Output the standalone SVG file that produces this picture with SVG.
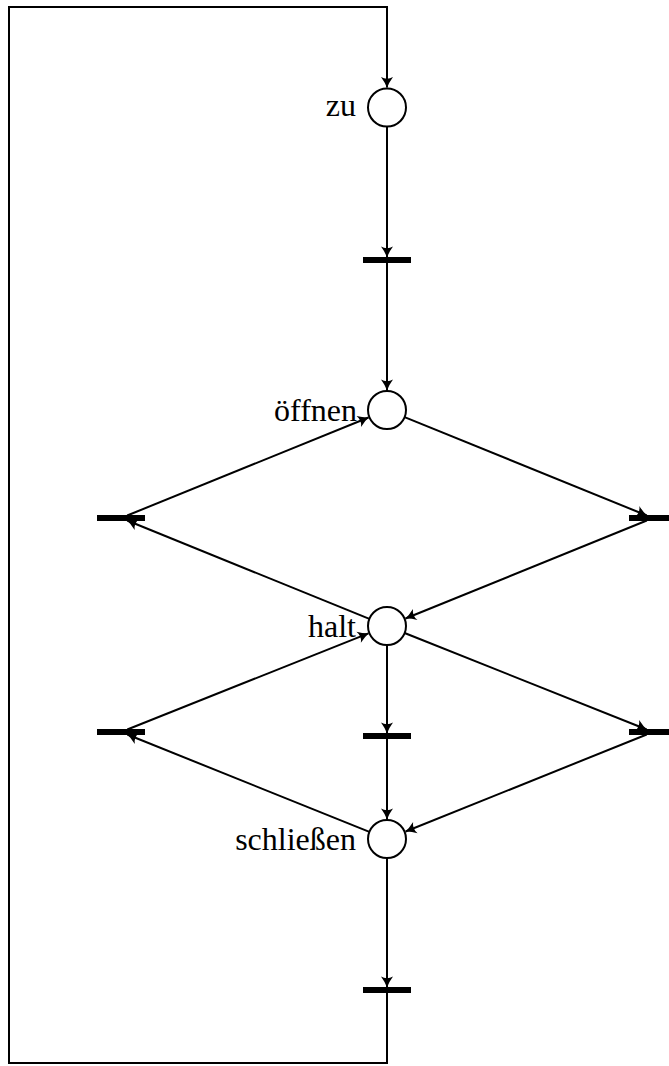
<svg xmlns="http://www.w3.org/2000/svg" width="669" height="1066" viewBox="0 0 669 1066">
  <defs>
    <marker id="arrow" viewBox="-13 -7 14 14" markerWidth="14" markerHeight="14" refX="0" refY="0" orient="auto" markerUnits="userSpaceOnUse">
      <path d="M0.5,0 Q-4.5,-1.6 -10.5,-6 Q-7,0 -10.5,6 Q-4.5,1.6 0.5,0 Z" fill="#000"/>
    </marker>
  </defs>
  <style>
    .place { fill: #fff; stroke: #000; stroke-width: 2; }
    .trans { fill: #000; stroke: none; }
    .arc { fill: none; stroke: #000; stroke-width: 2; marker-end: url(#arrow); }
    .line { fill: none; stroke: #000; stroke-width: 2; }
    .label { font-family: "Liberation Serif", "DejaVu Serif", serif; font-size: 32px; fill: #000; text-anchor: end; }
  </style>
  <rect width="669" height="1066" fill="#fff"/>

  <!-- arcs -->
  <g id="connectors">
    <path class="line" d="M387,990 L387,1063 L9,1063 L9,7 L387,7 L387,20"/>
    <path class="arc" d="M387,20 L387,87.5"/>
    <path class="arc" d="M387,127 L387,257"/>
    <path class="arc" d="M387,263 L387,390"/>
    <path class="arc" d="M404.6,417.1 L646.8,515.5"/>
    <path class="arc" d="M646.8,520.5 L405.5,618.5"/>
    <path class="arc" d="M369.4,618.9 L127.2,520.5"/>
    <path class="arc" d="M127.2,515.5 L368.5,417.5"/>
    <path class="arc" d="M387,645 L387,733"/>
    <path class="arc" d="M387,739 L387,819"/>
    <path class="arc" d="M404.6,633 L646.7,729.5"/>
    <path class="arc" d="M646.7,734.5 L405.6,831.5"/>
    <path class="arc" d="M369.4,831.9 L127.3,734.5"/>
    <path class="arc" d="M127.3,729.5 L368.4,633.4"/>
    <path class="arc" d="M387,858 L387,987"/>
  </g>

  <!-- places -->
  <g id="p-zu">
    <circle class="place" cx="387" cy="107.5" r="19"/>
    <text class="label" x="356" y="116">zu</text>
  </g>
  <g id="p-oeffnen">
    <circle class="place" cx="387" cy="410" r="19"/>
    <text class="label" x="357" y="420.5">öffnen</text>
  </g>
  <g id="p-halt">
    <circle class="place" cx="387" cy="626" r="19"/>
    <text class="label" x="356" y="636.5">halt</text>
  </g>
  <g id="p-schliessen">
    <circle class="place" cx="387" cy="839" r="19"/>
    <text class="label" x="356" y="849.5">schließen</text>
  </g>

  <!-- transitions -->
  <g id="t-open"><rect class="trans" x="363" y="257" width="48" height="6"/></g>
  <g id="t-left-upper"><rect class="trans" x="97" y="515" width="48" height="6"/></g>
  <g id="t-right-upper"><rect class="trans" x="629" y="515" width="48" height="6"/></g>
  <g id="t-left-lower"><rect class="trans" x="97" y="729" width="48" height="6"/></g>
  <g id="t-middle"><rect class="trans" x="363" y="733" width="48" height="6"/></g>
  <g id="t-right-lower"><rect class="trans" x="629" y="729" width="48" height="6"/></g>
  <g id="t-close"><rect class="trans" x="363" y="987" width="48" height="6"/></g>
</svg>
